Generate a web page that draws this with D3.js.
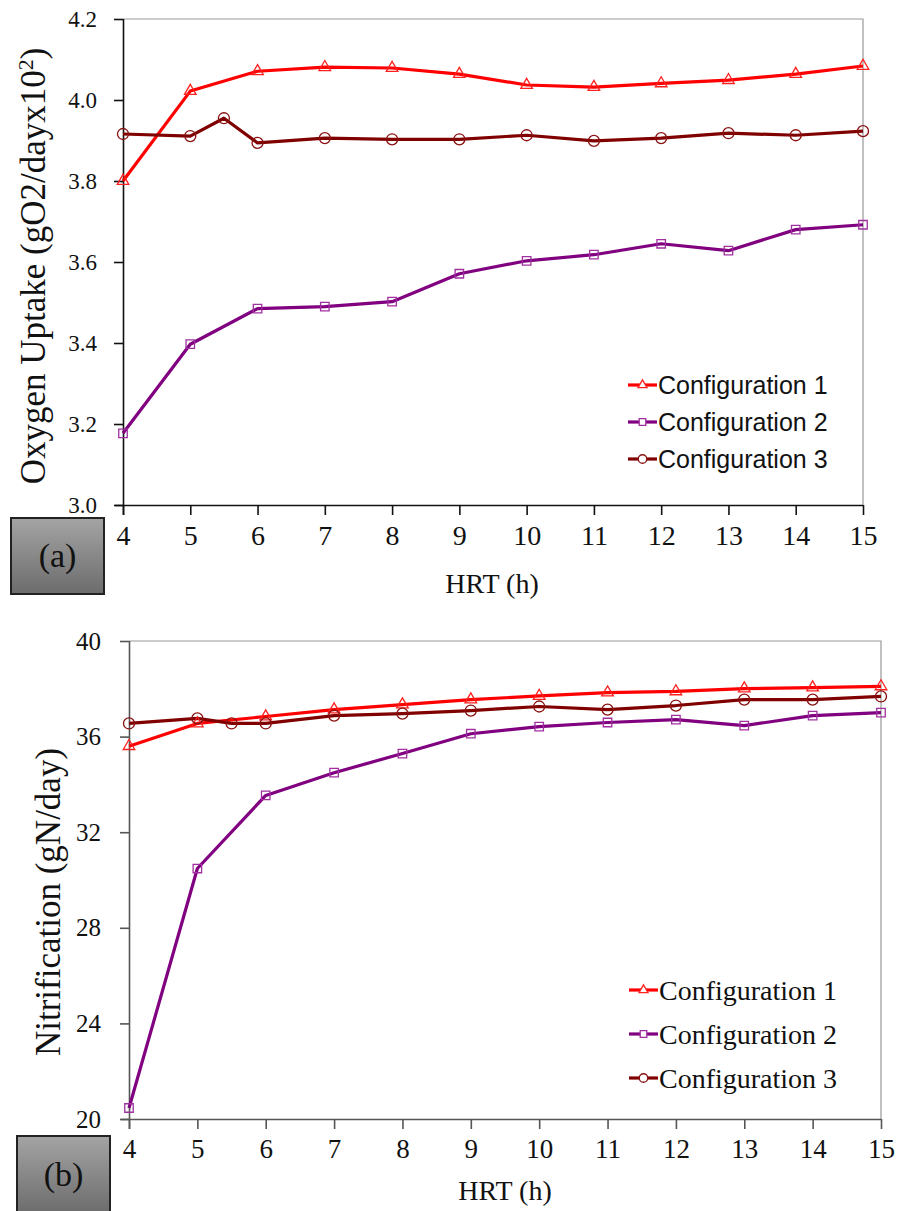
<!DOCTYPE html>
<html>
<head>
<meta charset="utf-8">
<script src="https://cdn.jsdelivr.net/npm/d3@7"></script>
<style>
	body { margin: 0; background: #fff; }
	svg { display: block; }
</style>
</head>
<body>
<svg id="fig" width="899" height="1211"></svg>
<script>
// HRT values (configuration 3 also has a point at 5.5 h)
const hrt = [4, 5, 6, 7, 8, 9, 10, 11, 12, 13, 14, 15];
const hrtC3 = [4, 5, 5.5, 6, 7, 8, 9, 10, 11, 12, 13, 14, 15];
const series = ["Configuration 1", "Configuration 2", "Configuration 3"];

// (a) oxygen uptake, gO2/day x10^2
const o2Config1 = [3.80, 4.022, 4.071, 4.081, 4.079, 4.064, 4.037, 4.032, 4.041, 4.049, 4.064, 4.084];
const o2Config2 = [3.177, 3.397, 3.485, 3.490, 3.502, 3.571, 3.603, 3.618, 3.645, 3.628, 3.680, 3.692];
const o2Config3 = [3.916, 3.911, 3.955, 3.894, 3.906, 3.903, 3.903, 3.913, 3.899, 3.906, 3.918, 3.913, 3.923];
const o2Ticks = [3.0, 3.2, 3.4, 3.6, 3.8, 4.0, 4.2];

// (b) nitrification, gN/day
const nitConfig1 = [35.6, 36.55, 36.84, 37.13, 37.34, 37.55, 37.7, 37.84, 37.89, 38.01, 38.05, 38.10];
const nitConfig2 = [20.46, 30.48, 33.54, 34.49, 35.29, 36.12, 36.42, 36.59, 36.71, 36.46, 36.88, 37.0];
const nitConfig3 = [36.55, 36.76, 36.55, 36.55, 36.88, 36.96, 37.09, 37.26, 37.13, 37.3, 37.55, 37.55, 37.68];
const nitTicks = [20, 24, 28, 32, 36, 40];

const couleurs = ["#ff0000", "#800080", "#800000"];
const marqueurs = [
	{type: d3.symbolTriangle, size: 58, color: "#ff2020"},
	{type: d3.symbolSquare, size: 72, color: "#a030a0"},
	{type: d3.symbolCircle, size: 95, color: "#8a1010"}
];
const serif = "'Liberation Serif', 'Times New Roman', serif";
const sans = "'Liberation Sans', Arial, sans-serif";

let svg = d3.select("#fig");
let defs = svg.append("defs");
let grad = defs.append("linearGradient")
	.attr("id", "gris")
	.attr("x1", 0).attr("y1", 0).attr("x2", 0).attr("y2", 1);
grad.append("stop").attr("offset", "0%").attr("stop-color", "#a4a4a4");
grad.append("stop").attr("offset", "100%").attr("stop-color", "#6c6c6c");

function panneau(p) {
	let g = svg.append("g");
	let x = d3.scaleLinear().domain([4, 15]).range(p.xr);
	let y = d3.scaleLinear().domain(p.yd).range(p.yr);

	// top and right frame
	g.append("path")
		.attr("d", `M${x(4)},${y(p.yd[1])}H${x(15)}V${y(p.yd[0])}`)
		.attr("fill", "none")
		.attr("stroke", "#999")
		.attr("stroke-width", 1.2);

	let ax = g.append("g")
		.attr("transform", `translate(0,${y(p.yd[0])})`)
		.call(d3.axisBottom(x).tickValues(hrt).tickSize(10).tickSizeOuter(0).tickPadding(p.xpad));
	ax.attr("font-family", null).attr("font-size", null);
	ax.select(".domain").attr("d", `M${x(4) - 8},0.5H${x(15)}`).attr("stroke", p.axisColor).attr("stroke-width", 1.6);
	ax.selectAll(".tick line").attr("stroke", p.axisColor).attr("stroke-width", 1.6);
	ax.selectAll("text")
		.style("font-family", serif)
		.style("font-size", p.xfs + "px")
		.attr("fill", "#111");

	let ay = g.append("g")
		.attr("transform", `translate(${x(4)},0)`)
		.call(d3.axisLeft(y).tickValues(p.ticks).tickSize(9).tickSizeOuter(0).tickPadding(p.ypad).tickFormat(p.fmt));
	ay.attr("font-family", null).attr("font-size", null);
	ay.select(".domain").attr("d", `M0.5,${y(p.yd[1])}V${y(p.yd[0]) + 10}`).attr("stroke", p.axisColor).attr("stroke-width", 1.6);
	ay.selectAll(".tick line").attr("stroke", p.axisColor).attr("stroke-width", 1.6);
	ay.selectAll("text")
		.style("font-family", serif)
		.style("font-size", p.yfs + "px")
		.attr("fill", "#111");

	// series
	let ligne = d3.line()
		.x(q => x(q[0]))
		.y(q => y(q[1]));
	p.data.forEach((d, k) => {
		g.append("path")
			.attr("d", ligne(d.xs.map((v, i) => [v, d.ys[i]])))
			.attr("fill", "none")
			.attr("stroke", couleurs[k])
			.attr("stroke-width", 3.2)
			.attr("stroke-linejoin", "round");
	});
	p.data.forEach((d, k) => {
		let m = marqueurs[k];
		g.append("g")
			.selectAll("path")
			.data(d.xs.map((v, i) => [v, d.ys[i]]))
			.join("path")
			.attr("transform", q => `translate(${x(q[0])},${y(q[1])})`)
			.attr("d", d3.symbol().type(m.type).size(m.size))
			.attr("fill", "none")
			.attr("stroke", m.color)
			.attr("stroke-width", 1.3);
	});

	// legend
	let leg = g.append("g");
	series.forEach((s, k) => {
		let ly = p.leg.y + k * p.leg.dy;
		leg.append("line")
			.attr("x1", p.leg.x).attr("x2", p.leg.x + 29)
			.attr("y1", ly).attr("y2", ly)
			.attr("stroke", couleurs[k])
			.attr("stroke-width", 3.2);
		leg.append("path")
			.attr("transform", `translate(${p.leg.x + 14.5},${ly})`)
			.attr("d", d3.symbol().type(marqueurs[k].type).size(marqueurs[k].size * 0.6))
			.attr("fill", "#fff")
			.attr("stroke", marqueurs[k].color)
			.attr("stroke-width", 1.3);
		leg.append("text")
			.attr("x", p.leg.x + 30)
			.attr("y", ly)
			.attr("dy", "0.35em")
			.style("font-family", p.leg.font)
			.style("font-size", p.leg.fs + "px")
			.attr("fill", "#111")
			.text(s);
	});

	// axis titles
	let yt = g.append("text")
		.attr("transform", `translate(${p.ytitle.x},${p.ytitle.y}) rotate(-90)`)
		.attr("text-anchor", "middle")
		.style("font-family", serif)
		.style("font-size", "35px")
		.attr("fill", "#111");
	p.ytitle.parts.forEach(([t, sup]) => {
		yt.append("tspan")
			.style("font-size", sup ? "22px" : null)
			.attr("baseline-shift", sup ? "55%" : null)
			.text(t);
	});
	g.append("text")
		.attr("x", p.xtitle.x)
		.attr("y", p.xtitle.y)
		.attr("text-anchor", "middle")
		.style("font-family", serif)
		.style("font-size", "28px")
		.attr("fill", "#111")
		.text("HRT (h)");

	// panel label box
	g.append("rect")
		.attr("x", p.box.x).attr("y", p.box.y)
		.attr("width", p.box.w).attr("height", p.box.h)
		.attr("fill", "url(#gris)")
		.attr("stroke", "#222")
		.attr("stroke-width", 2);
	g.append("text")
		.attr("x", p.box.x + p.box.w / 2)
		.attr("y", p.box.y + p.box.h / 2)
		.attr("dy", "0.33em")
		.attr("text-anchor", "middle")
		.style("font-family", serif)
		.style("font-size", "34px")
		.attr("fill", "#111")
		.text(p.box.label);
}

panneau({
	xr: [123, 863], yd: [3.0, 4.2], yr: [505, 19],
	ticks: o2Ticks, fmt: d3.format(".1f"),
	axisColor: "#111", xfs: 28, yfs: 23, xpad: 10, ypad: 17,
	data: [
		{xs: hrt, ys: o2Config1},
		{xs: hrt, ys: o2Config2},
		{xs: hrtC3, ys: o2Config3}
	],
	leg: {x: 628, y: 385, dy: 37, font: sans, fs: 25},
	ytitle: {x: 45, y: 266, parts: [["Oxygen Uptake (gO2/dayx10"], ["2", true], [")"]]},
	xtitle: {x: 492, y: 593},
	box: {x: 11, y: 518, w: 93, h: 76, label: "(a)"}
});

panneau({
	xr: [129, 881], yd: [20, 40], yr: [1119, 641],
	ticks: nitTicks, fmt: d3.format("d"),
	axisColor: "#555", xfs: 27, yfs: 25, xpad: 10, ypad: 19,
	data: [
		{xs: hrt, ys: nitConfig1},
		{xs: hrt, ys: nitConfig2},
		{xs: hrtC3, ys: nitConfig3}
	],
	leg: {x: 629, y: 990, dy: 44, font: serif, fs: 28},
	ytitle: {x: 60, y: 902, parts: [["Nitrification (gN/day)"]]},
	xtitle: {x: 505, y: 1200},
	box: {x: 17, y: 1136, w: 93, h: 78, label: "(b)"}
});
</script>
</body>
</html>
